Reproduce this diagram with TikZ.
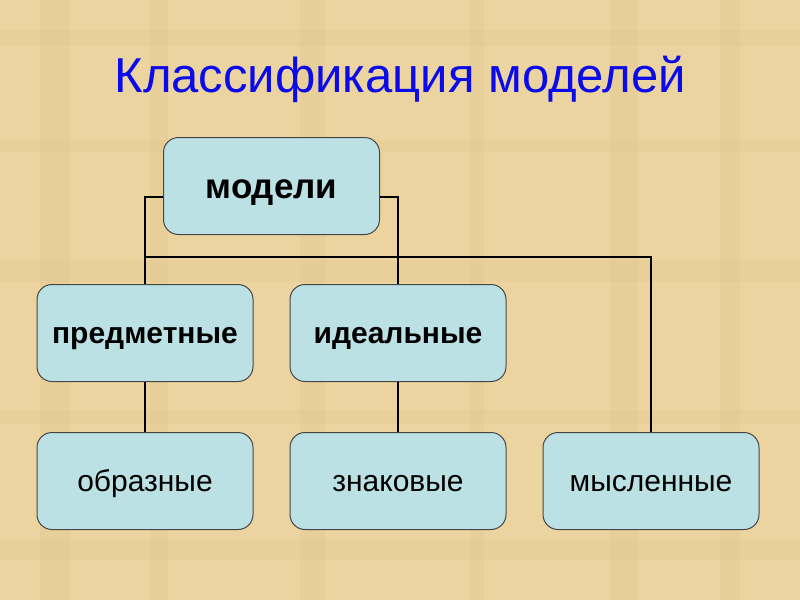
\documentclass[tikz,border=0pt]{standalone}
\usepackage{fontspec}
\setmainfont{Liberation Sans}
\usepackage{xcolor}
\usetikzlibrary{positioning, calc}

\definecolor{parch}{RGB}{236,212,160}
\definecolor{parchdark}{RGB}{220,190,130}
\definecolor{boxfill}{RGB}{188,225,228}
\definecolor{boxline}{RGB}{70,70,70}
\definecolor{titleblue}{RGB}{10,10,235}

\begin{document}
\begin{tikzpicture}[
    x=1pt, y=-1pt,
    kind/.style={
        rectangle, rounded corners=15pt, draw=boxline, line width=1pt,
        fill=boxfill, minimum width=216pt, minimum height=97pt,
        inner sep=0pt, align=center, text height=27pt, text depth=6pt,
        font=\fontsize{30}{34}\selectfont#1
    },
    kind/.default={},
    title/.style={font=\fontsize{49}{56}\selectfont, text=titleblue},
    link/.style={line width=1.8pt, black}
]

% Parchment background
\useasboundingbox (0,0) rectangle (800,600);
\fill[parch] (0,0) rectangle (800,600);
\foreach \x/\w in {40/30, 150/18, 300/25, 470/14, 610/28, 720/20}
    \fill[parchdark, opacity=0.2] (\x,0) rectangle ++(\w,600);
\foreach \y/\h in {30/16, 140/12, 260/22, 410/14, 540/20}
    \fill[parchdark, opacity=0.18] (0,\y) rectangle ++(800,\h);

% Title
\node[title, anchor=base] (title) at (400,92) {Классификация моделей};

% Second row
\node[kind=\bfseries] (pred) at (145,333) {предметные};
\node[kind=\bfseries, right=36pt of pred] (ideal) {идеальные};

% Root
\node[kind=\bfseries\fontsize{35}{40}\selectfont, text height=32pt, text depth=7.5pt,
      above=49pt of $(pred.north)!0.5!(ideal.north)$] (model) {модели};

% Third row
\node[kind, below=50pt of pred] (obraz) {образные};
\node[kind, below=50pt of ideal] (znak) {знаковые};
\node[kind, right=36pt of znak] (mysl) {мысленные};

% Connectors
\coordinate (bus) at ($(pred.north)+(0,-27)$);
\draw[link] ($(model.west)+(0,11)$) -| (pred.north);
\draw[link] ($(model.east)+(0,11)$) -| (ideal.north);
\draw[link] (bus) -| (mysl.north);
\draw[link] (pred) -- (obraz);
\draw[link] (ideal) -- (znak);

\end{tikzpicture}
\end{document}
